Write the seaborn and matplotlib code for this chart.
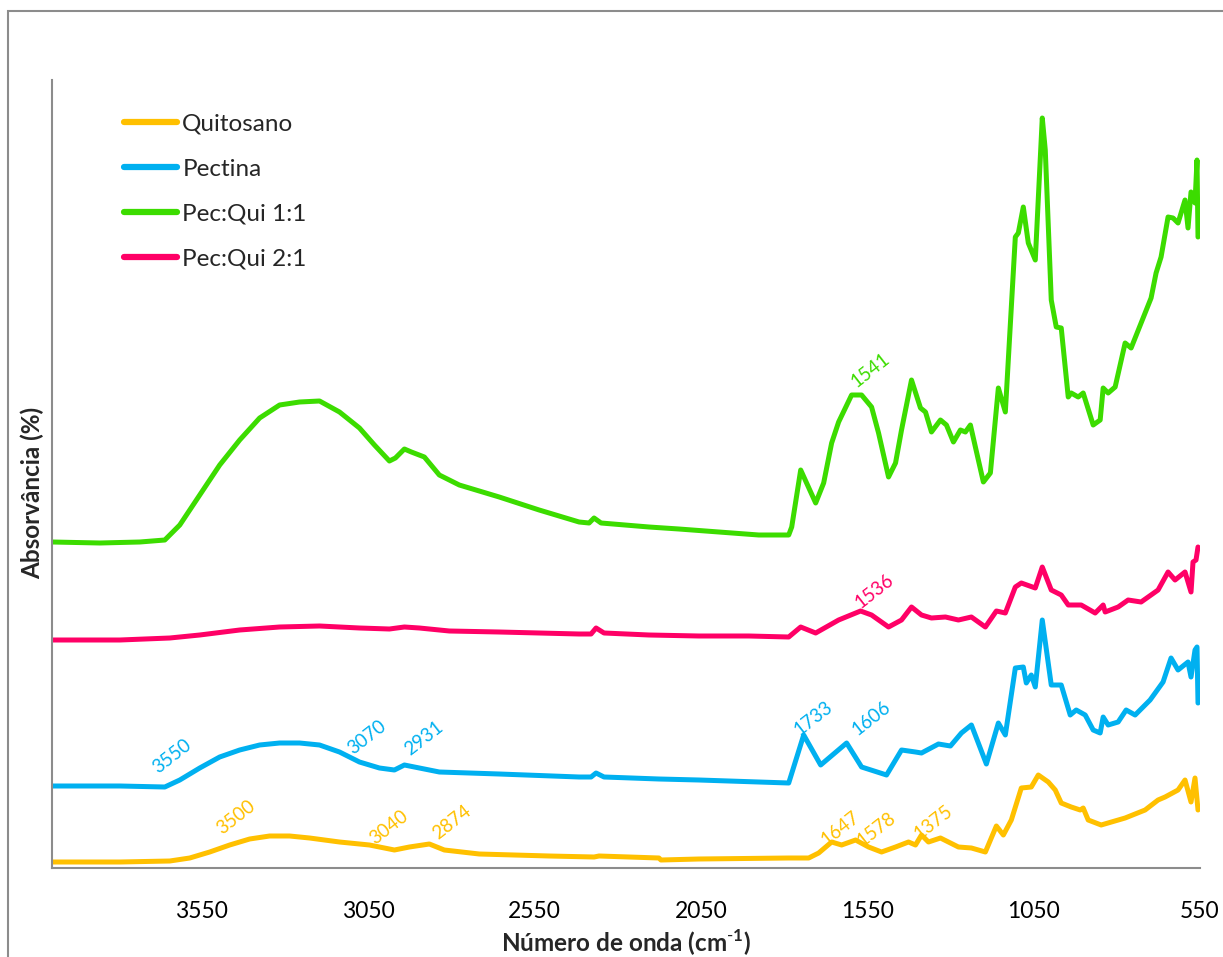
import numpy as np
import pandas as pd
import matplotlib
matplotlib.use("Agg")
import matplotlib.pyplot as plt
import matplotlib.patches as patches
import seaborn as sns

# ---------------- data (wavenumber cm-1, absorbance in arbitrary units) ----------------
quit_wn = [4000, 3796, 3646, 3586, 3526, 3466, 3406, 3346, 3286, 3226, 3136, 3046, 2971, 2926,
           2866, 2821, 2716, 2506, 2371, 2356, 2176, 2170, 2056, 1786, 1726, 1696, 1657, 1627,
           1585, 1546, 1507, 1465, 1426, 1405, 1387, 1366, 1330, 1276, 1237, 1195, 1162, 1141,
           1117, 1087, 1057, 1036, 1006, 985, 967, 937, 910, 901, 886, 847, 775, 715, 676, 655,
           616, 595, 577, 565, 556]
quit_ab = [6, 6, 7, 10, 16, 23, 29, 32, 32, 30, 26, 23, 18, 21,
           24, 18, 14, 12, 11, 12, 10, 8, 9, 10, 10, 15, 26, 23,
           28, 21, 16, 21, 26, 23, 33, 26, 30, 21, 20, 16, 42, 33,
           48, 80, 81, 93, 86, 78, 65, 61, 58, 60, 48, 43, 50, 58, 68, 71,
           78, 88, 66, 90, 58]

pec_wn = [4000, 3796, 3661, 3616, 3556, 3496, 3436, 3376, 3316, 3256, 3196, 3136, 3076, 3016,
          2971, 2941, 2911, 2836, 2656, 2416, 2380, 2365, 2341, 2176, 2056, 1786, 1741, 1690,
          1612, 1567, 1492, 1447, 1405, 1387, 1336, 1300, 1267, 1237, 1192, 1156, 1135, 1105,
          1081, 1072, 1057, 1045, 1024, 997, 967, 940, 922, 895, 871, 850, 841, 826, 796, 772,
          745, 700, 661, 637, 616, 586, 577, 565, 559, 556]
pec_ab = [82, 82, 81, 88, 100, 111, 118, 123, 125, 125, 123, 116, 106, 100,
          98, 103, 101, 96, 94, 91, 91, 95, 91, 89, 88, 85, 133, 103,
          125, 101, 93, 118, 116, 115, 124, 122, 135, 143, 104, 145, 133, 200,
          201, 185, 193, 181, 248, 183, 183, 153, 158, 153, 138, 135, 151, 143, 146, 158,
          153, 168, 186, 210, 198, 206, 191, 218, 221, 165]

pq11_wn = [4000, 3856, 3736, 3661, 3616, 3556, 3496, 3436, 3376, 3316, 3256, 3196, 3136, 3076,
           3031, 2986, 2968, 2941, 2920, 2881, 2836, 2776, 2656, 2536, 2416, 2386, 2371, 2350,
           2206, 2116, 1996, 1876, 1786, 1777, 1750, 1705, 1681, 1657, 1636, 1597, 1567, 1537,
           1516, 1486, 1465, 1447, 1417, 1390, 1375, 1357, 1330, 1312, 1291, 1270, 1255, 1240,
           1225, 1201, 1180, 1156, 1135, 1105, 1096, 1081, 1066, 1045, 1024, 1015, 997, 982,
           967, 946, 937, 916, 901, 871, 850, 841, 826, 805, 775, 757, 715, 697, 682, 667, 646,
           631, 616, 595, 586, 577, 565, 559, 556]
pq11_ab = [326, 325, 326, 328, 343, 373, 403, 428, 450, 463, 466, 467, 456, 440,
           423, 407, 410, 419, 416, 411, 393, 383, 371, 358, 346, 345, 350, 345,
           341, 339, 336, 333, 333, 341, 398, 365, 385, 425, 446, 473, 473, 461,
           435, 391, 405, 438, 488, 460, 456, 436, 448, 443, 426, 438, 436, 443,
           421, 386, 395, 480, 456, 631, 635, 661, 625, 608, 750, 718, 568, 541,
           540, 471, 475, 471, 475, 443, 448, 480, 475, 481, 525, 520, 555, 570, 595, 611, 651,
           650, 645, 668, 640, 676, 665, 708, 631]

pq21_wn = [4000, 3796, 3646, 3556, 3436, 3316, 3196, 3076, 2986, 2941, 2896, 2806, 2656, 2416,
           2380, 2365, 2341, 2206, 2056, 1906, 1786, 1750, 1705, 1636, 1570, 1537, 1486, 1447,
           1417, 1387, 1357, 1315, 1276, 1237, 1195, 1162, 1135, 1105, 1087, 1045, 1024, 997,
           967, 946, 907, 865, 841, 835, 796, 766, 727, 676, 646, 625, 595, 577, 571, 562, 556]
pq21_ab = [228, 228, 230, 233, 238, 241, 242, 240, 239, 241, 240, 237, 236, 234,
           234, 240, 235, 233, 232, 232, 231, 241, 235, 248, 257, 253, 241, 248,
           261, 253, 250, 251, 248, 251, 241, 257, 255, 281, 285, 280, 301, 278,
           273, 263, 263, 255, 263, 256, 261, 268, 266, 278, 296, 288, 296, 276, 306, 308, 321]

series_names = ["Quitosano", "Pectina", "Pec:Qui 1:1", "Pec:Qui 2:1"]
series_colors = ["#FFC000", "#00B0F0", "#3CDC00", "#FF0066"]

xtick_values = [3550, 3050, 2550, 2050, 1550, 1050, 550]

# peak labels: (text, series index, wavenumber, height)
peak_text = ["1541", "1536", "3550", "3070", "2931", "1733", "1606",
             "3500", "3040", "2874", "1647", "1578", "1375"]
peak_series = [2, 3, 1, 1, 1, 1, 1, 0, 0, 0, 0, 0, 0]
peak_wn = [1540, 1528, 3640, 3052, 2881, 1711, 1537, 3448, 2986, 2797, 1630, 1522, 1351]
peak_h = [498, 277, 112, 131, 130, 150, 150, 51, 41, 46, 40, 39, 46]

# ---------------- build frame ----------------
frames = []
for name, wn, ab in [("Quitosano", quit_wn, quit_ab), ("Pectina", pec_wn, pec_ab),
                     ("Pec:Qui 1:1", pq11_wn, pq11_ab), ("Pec:Qui 2:1", pq21_wn, pq21_ab)]:
    frames.append(pd.DataFrame({"wn": wn, "ab": ab, "amostra": name}))
df = pd.concat(frames, ignore_index=True)

sns.set_style("white")
plt.rcParams["font.family"] = ["Lato", "DejaVu Sans"]
plt.rcParams["mathtext.fontset"] = "custom"
plt.rcParams["mathtext.rm"] = "Lato"
plt.rcParams["mathtext.bf"] = "Lato:bold"

W, H = 1223, 957
fig = plt.figure(figsize=(W / 100, H / 100), dpi=100)
ax = fig.add_axes([52 / W, 1 - 868 / H, (1200 - 52) / W, (868 - 80) / H])

palette = dict(zip(series_names, series_colors))
sns.lineplot(data=df, x="wn", y="ab", hue="amostra", hue_order=series_names,
             palette=palette, sort=False, estimator=None, linewidth=3.6, ax=ax,
             legend=True)
for ln in ax.get_lines():
    ln.set_solid_joinstyle("round")
    ln.set_solid_capstyle("round")

ax.set_xlim(4000, 550)
ax.set_ylim(0, 788)
ax.set_xticks(xtick_values)
ax.set_xticklabels([str(v) for v in xtick_values])
ax.set_yticks([])

for s in ["top", "right"]:
    ax.spines[s].set_visible(False)
for s in ["left", "bottom"]:
    ax.spines[s].set_color("#8c8c8c")
    ax.spines[s].set_linewidth(1.5)

ax.tick_params(axis="x", direction="out", length=7, width=1.5, color="#8c8c8c",
               labelsize=16.5, pad=17, labelcolor="black")

ax.set_xlabel("Número de onda (cm$^{\\mathbf{\\text{-}1}}$)", fontsize=17.5,
              fontweight="bold", labelpad=4)
ax.set_ylabel("Absorvância (%)", fontsize=17.5, fontweight="bold")
ax.yaxis.set_label_coords(-0.007, 0.476)

for t, si, x, y in zip(peak_text, peak_series, peak_wn, peak_h):
    ax.text(x, y, t, color=series_colors[si], fontsize=13.5, rotation=38,
            ha="center", va="center", rotation_mode="anchor")

handles, labels = ax.get_legend_handles_labels()
leg = ax.legend(handles, labels, loc="upper left", bbox_to_anchor=(0.0627, 0.957),
                frameon=False, fontsize=17.5, labelspacing=0.98, handlelength=2.2,
                handletextpad=0.2, borderaxespad=0, borderpad=0)
for line in leg.get_lines():
    line.set_linewidth(4.5)

# outer chart border
fig.patches.append(patches.Rectangle((8 / W, -0.1), 1.2, 1 - 11 / H + 0.1,
                                     transform=fig.transFigure, fill=False,
                                     edgecolor="#8c8c8c", linewidth=1.5))

fig.savefig("out.png", dpi=100)
